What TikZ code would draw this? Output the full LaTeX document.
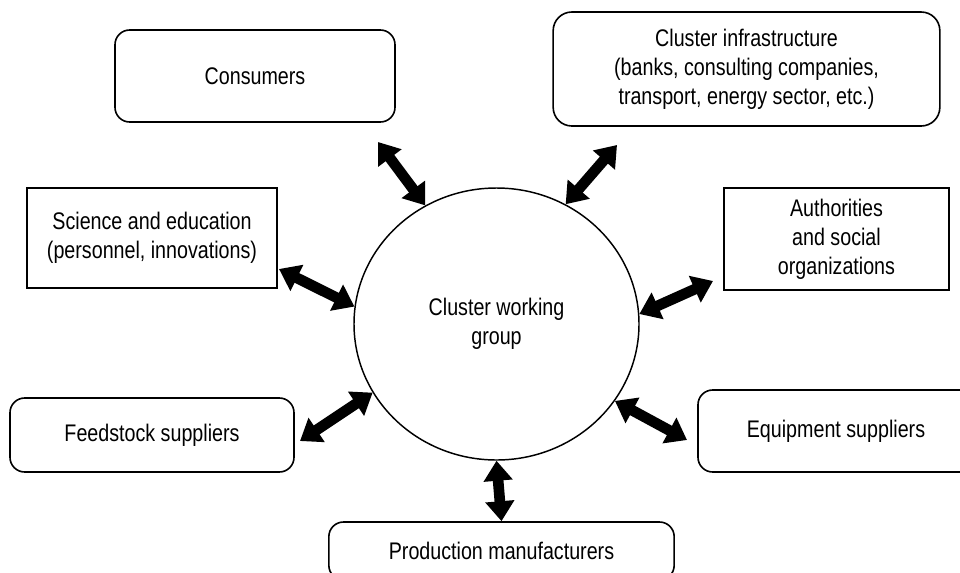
\documentclass[tikz,border=0pt]{standalone}
\usepackage{fontspec}
\setmainfont{Liberation Sans}[FakeStretch=0.82]
\usetikzlibrary{arrows.meta,shapes.geometric}

\tikzset{every picture/.style={line width=0.75pt}}
\tikzset{
  rbox/.style={draw, rounded corners=11pt, line width=1.2pt, align=center, inner sep=0pt},
  sbox/.style={draw, line width=1.2pt, align=center, inner sep=0pt},
  twoway/.style={line width=8pt, {Triangle[length=15pt,width=21pt]}-{Triangle[length=15pt,width=21pt]}}
}

\begin{document}
\begin{tikzpicture}[x=0.75pt,y=0.75pt,yscale=-1,xscale=1,
    font=\fontsize{18}{21.75}\selectfont]
\useasboundingbox (0,0) rectangle (960,572);

%Shape: Ellipse [id:cwg]
\node [draw, ellipse, line width=1.1pt, minimum width=213.75pt, minimum height=204pt, align=center] (cwg) at (496.5,324) {Cluster working\\group};

%Rounded Rect [id:consumers]
\node [rbox, minimum width=210pt, minimum height=69pt] (consumers) at (255,76) {Consumers};
%Rounded Rect [id:infra]
\node [rbox, rounded corners=14pt, minimum width=290pt, minimum height=85.5pt] (infra) at (746.5,69) {Cluster infrastructure\\(banks, consulting companies,\\transport, energy sector, etc.)};
%Shape: Rectangle [id:science]
\node [sbox, minimum width=187.5pt, minimum height=75pt] (science) at (152,238) {Science and education\\(personnel, innovations)};
%Shape: Rectangle [id:authorities]
\node [sbox, minimum width=169pt, minimum height=76.5pt] (authorities) at (836.5,239) {Authorities\\and social\\organizations};
%Rounded Rect [id:feedstock]
\node [rbox, minimum width=213pt, minimum height=55.5pt] (feedstock) at (152,435) {Feedstock suppliers};
%Rounded Rect [id:equipment]
\node [rbox, minimum width=207pt, minimum height=61.5pt] (equipment) at (836,431) {Equipment suppliers};
%Rounded Rect [id:production]
\node [rbox, minimum width=259pt, minimum height=43.5pt] (production) at (501.5,551) {Production manufacturers};

%Free ends of the arrows
\coordinate (a1) at (378,142);
\coordinate (a2) at (617,145);
\coordinate (a3) at (279,269);
\coordinate (a4) at (713,281);
\coordinate (a5) at (300,441);
\coordinate (a6) at (687,440);

%Double Arrows
\draw [twoway] (a1) -- (cwg.121.4);
\draw [twoway] (a2) -- (cwg.60.8);
\draw [twoway] (a3) -- (cwg.173.7);
\draw [twoway] (a4) -- (cwg.4.8);
\draw [twoway] (a5) -- (cwg.209.8);
\draw [twoway] (a6) -- (cwg.327.1);
\draw [twoway] (cwg.south) -- (production.north);

\end{tikzpicture}
\end{document}
